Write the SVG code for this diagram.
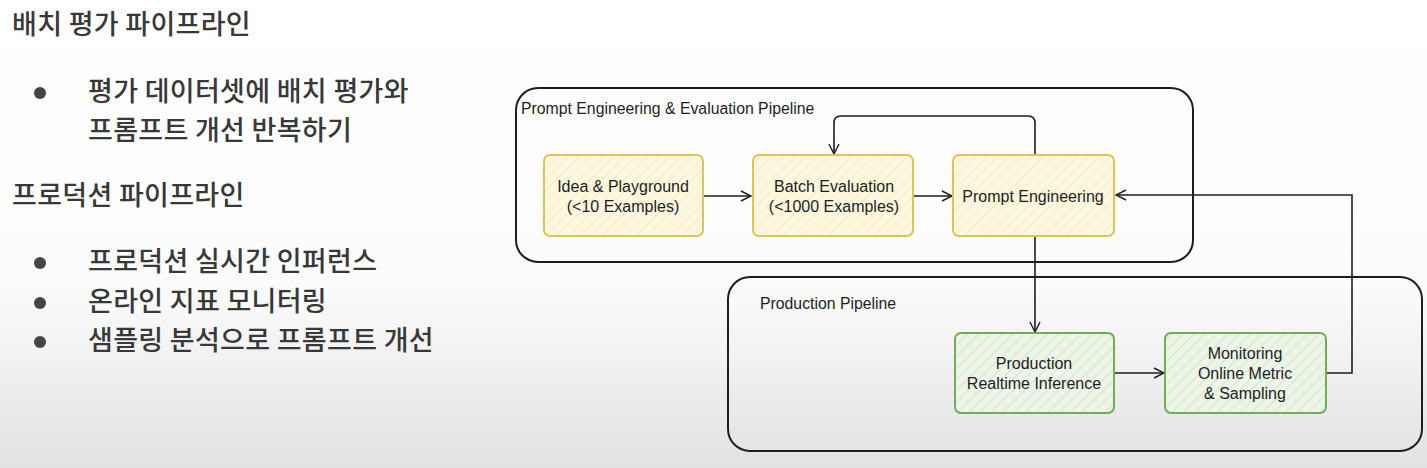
<svg xmlns="http://www.w3.org/2000/svg" width="1427" height="468" viewBox="0 0 1427 468">
<defs>
<linearGradient id="bg" x1="0" y1="0" x2="0" y2="1">
<stop offset="0" stop-color="#ffffff"/>
<stop offset="0.6" stop-color="#fcfcfc"/>
<stop offset="1" stop-color="#e2e2e2"/>
</linearGradient>
<pattern id="hatchY" width="8" height="8" patternUnits="userSpaceOnUse" patternTransform="rotate(45)">
<rect width="8" height="8" fill="#fdf7df"/>
<line x1="0" y1="0" x2="0" y2="8" stroke="#f1e5b8" stroke-width="1.5"/>
</pattern>
<pattern id="hatchG" width="8" height="8" patternUnits="userSpaceOnUse" patternTransform="rotate(45)">
<rect width="8" height="8" fill="#edf5e8"/>
<line x1="0" y1="0" x2="0" y2="8" stroke="#c9e0bd" stroke-width="1.5"/>
</pattern>
<marker id="arr" viewBox="0 0 12 12" refX="11" refY="6" markerWidth="12" markerHeight="12" markerUnits="userSpaceOnUse" orient="auto">
<path d="M1,1 L11,6 L1,11" fill="none" stroke="#1e1e1e" stroke-width="1.4"/>
</marker>
<style>
.kr{font-family:"Noto Sans CJK KR","Noto Sans",sans-serif;font-size:27px;font-weight:500;letter-spacing:0.3px;fill:#383838}
.dot{fill:#444}
.cont{fill:none;stroke:#1e1e1e;stroke-width:2}
.ctitle{font-family:"Liberation Sans",Arial,sans-serif;font-size:15.8px;fill:#1e1e1e}
.ny{fill:url(#hatchY);stroke:#dcc35a;stroke-width:2}
.ng{fill:url(#hatchG);stroke:#6db050;stroke-width:2}
.lbl{font-family:"Liberation Sans",Arial,sans-serif;font-size:16px;fill:#1e1e1e;text-anchor:middle}
.edge{fill:none;stroke:#1e1e1e;stroke-width:1.6;marker-end:url(#arr)}
</style>
</defs>
<rect width="1427" height="468" fill="url(#bg)"/>

<g id="notes">
<text class="kr" x="12" y="34">배치 평가 파이프라인</text>
<circle class="dot" cx="40" cy="93" r="6"/>
<text class="kr" x="88" y="101">평가 데이터셋에 배치 평가와</text>
<text class="kr" x="88" y="140">프롬프트 개선 반복하기</text>
<text class="kr" x="12" y="205">프로덕션 파이프라인</text>
<circle class="dot" cx="40" cy="263" r="6"/>
<text class="kr" x="88" y="271">프로덕션 실시간 인퍼런스</text>
<circle class="dot" cx="40" cy="303" r="6"/>
<text class="kr" x="88" y="311">온라인 지표 모니터링</text>
<circle class="dot" cx="40" cy="342" r="6"/>
<text class="kr" x="88" y="350">샘플링 분석으로 프롬프트 개선</text>
</g>

<g id="prompt-pipeline">
<rect class="cont" x="516" y="88" width="677" height="174" rx="22"/>
<text class="ctitle" x="521" y="114">Prompt Engineering &amp; Evaluation Pipeline</text>
</g>
<g id="production-pipeline">
<rect class="cont" x="728" y="277" width="694" height="174" rx="22"/>
<text class="ctitle" x="760" y="309">Production Pipeline</text>
</g>

<g id="connectors">
<path class="edge" d="M703,196 L751,196"/>
<path class="edge" d="M913,196 L952,196"/>
<path class="edge" d="M1035,155 L1035,123 Q1035,116 1028,116 L841,116 Q834,116 834,123 L834,154"/>
<path class="edge" d="M1035,237 L1035,332"/>
<path class="edge" d="M1114,373 L1164,373"/>
<path class="edge" d="M1326,373 L1352,373 L1352,195 L1116,195"/>
</g>

<g id="idea">
<rect class="ny" x="544" y="155" width="159" height="81" rx="6"/>
<text class="lbl" x="623" y="192">Idea &amp; Playground</text>
<text class="lbl" x="623" y="212">(&lt;10 Examples)</text>
</g>
<g id="batch">
<rect class="ny" x="753" y="155" width="160" height="81" rx="6"/>
<text class="lbl" x="834" y="192">Batch Evaluation</text>
<text class="lbl" x="834" y="212">(&lt;1000 Examples)</text>
</g>
<g id="prompt">
<rect class="ny" x="953" y="155" width="161" height="81" rx="6"/>
<text class="lbl" x="1033" y="202">Prompt Engineering</text>
</g>
<g id="production">
<rect class="ng" x="955" y="333" width="159" height="80" rx="6"/>
<text class="lbl" x="1034" y="369">Production</text>
<text class="lbl" x="1034" y="389">Realtime Inference</text>
</g>
<g id="monitoring">
<rect class="ng" x="1165" y="333" width="161" height="80" rx="6"/>
<text class="lbl" x="1245" y="359">Monitoring</text>
<text class="lbl" x="1245" y="379">Online Metric</text>
<text class="lbl" x="1245" y="399">&amp; Sampling</text>
</g>
</svg>
